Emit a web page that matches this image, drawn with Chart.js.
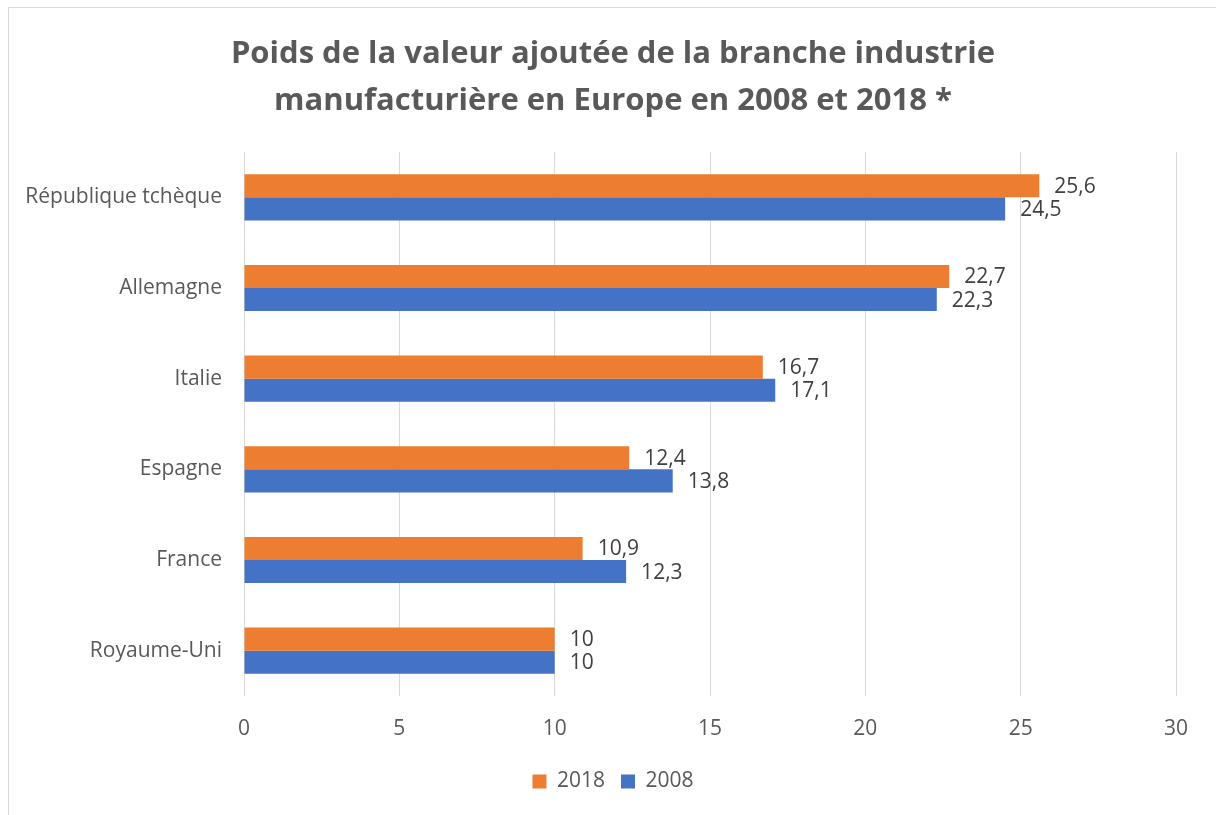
<!DOCTYPE html>
<html><head><meta charset="utf-8">
<script src="https://cdn.jsdelivr.net/npm/chart.js@4.4.1/dist/chart.umd.min.js"></script>
<style>
html,body{margin:0;padding:0;background:#fff;}
#wrap{position:relative;width:1216px;height:815px;}
#frame{position:absolute;left:8px;top:7px;width:1220px;height:820px;border:1px solid #d9d9d9;box-sizing:border-box;}
canvas{position:absolute;left:0;top:0;}
</style></head>
<body><div id="wrap"><div id="frame"></div><canvas id="c" width="1216" height="815"></canvas></div>
<script>
const categories = ["République tchèque","Allemagne","Italie","Espagne","France","Royaume-Uni"];
const values2018 = [25.6,22.7,16.7,12.4,10.9,10];
const values2008 = [24.5,22.3,17.1,13.8,12.3,10];
const seriesNames = ["2018","2008"];
const xTicks = [0,5,10,15,20,25,30];
const titleLines = ["Poids de la valeur ajoutée de la branche industrie","manufacturière en Europe en 2008 et 2018 *"];

const FONT = "'Open Sans', sans-serif";
const fmt = v => String(v).replace('.', ',');

const labelPlugin = {
  id: 'valLabels',
  afterLayout(chart){
    // widen the label clip area of the category axis so long labels are not cut
    chart.scales.y.left = 0;
  },
  afterDatasetsDraw(chart){
    const ctx = chart.ctx;
    ctx.save();
    ctx.font = "21px " + FONT;
    ctx.fillStyle = "#404040";
    ctx.textAlign = "left";
    ctx.textBaseline = "middle";
    chart.data.datasets.forEach((ds, i) => {
      const meta = chart.getDatasetMeta(i);
      meta.data.forEach((el, j) => {
        ctx.fillText(fmt(ds.data[j]), el.x + 15, el.y + 1);
      });
    });
    ctx.restore();
  }
};

new Chart(document.getElementById('c'), {
  type: 'bar',
  data: {
    labels: categories,
    datasets: [
      {label: seriesNames[0], data: values2018, backgroundColor: '#ED7D31', categoryPercentage: 0.51, barPercentage: 1.0},
      {label: seriesNames[1], data: values2008, backgroundColor: '#4472C4', categoryPercentage: 0.51, barPercentage: 1.0}
    ]
  },
  options: {
    indexAxis: 'y',
    responsive: false,
    animation: false,
    layout: {padding: {top: 31, bottom: 13, left: 50, right: 40}},
    scales: {
      x: {
        min: 0, max: 30,
        afterBuildTicks: s => { s.ticks = xTicks.map(v => ({value: v})); },
        afterFit: s => { s.height = 59; },
        grid: {color: '#d9d9d9', lineWidth: 1, drawTicks: false},
        border: {display: false},
        ticks: {padding: 20, color: '#595959', font: {family: FONT, size: 21}}
      },
      y: {
        afterFit: s => { s.width = 194; },
        grid: {display: false, drawTicks: false},
        border: {display: false},
        ticks: {padding: 22, color: '#595959', font: {family: FONT, size: 21}}
      }
    },
    plugins: {
      title: {display: true, text: titleLines, color: '#595959',
        font: {family: FONT, size: 31, weight: 'bold', lineHeight: 1.5},
        padding: {top: 0, bottom: 28}},
      legend: {position: 'bottom',
        labels: {boxWidth: 14, boxHeight: 14, color: '#595959', padding: 16,
          font: {family: FONT, size: 21}}},
      tooltip: {enabled: false}
    }
  },
  plugins: [labelPlugin]
});
</script></body></html>
